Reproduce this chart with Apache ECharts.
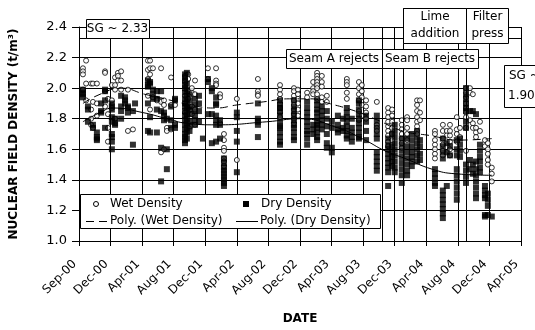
<!DOCTYPE html>
<html><head><meta charset="utf-8">
<script src="https://cdn.jsdelivr.net/npm/echarts@6/dist/echarts.min.js"></script>
<style>html,body{margin:0;padding:0;background:#fff}#c{width:535px;height:330px}</style>
</head><body><div id="c"></div>
<script>
// x = days since 1 Sep 2000 (Excel date axis, major unit 120 days)
const tickLabels = ['Sep-00','Dec-00','Apr-01','Aug-01','Dec-01','Apr-02','Aug-02','Dec-02','Apr-03','Aug-03','Dec-03','Apr-04','Aug-04','Dec-04','Apr-05'];
const xMin = 0, xMax = 1680, xStep = 120;
const yMin = 1.0, yMax = 2.4, yStep = 0.2;

// event markers (day) and SG lines
const seamBStart = 1151, limeStart = 1231, filterStart = 1471;
const sgHigh = 2.33, sgLow = 1.90;

const wetColumns = [
 [15,[2.13,2.11,2.09,1.99]],[27,[2.18,2.03,1.92]],[46,[2.03,1.86,1.80,1.76]],[53,[2.03,1.91,1.74]],
 [68,[2.03,1.90,1.82]],[99,[2.11,2.10,1.98,1.88]],[110,[1.93,1.83,1.74,1.65]],[125,[2.02,1.92,1.87]],
 [137,[2.07,2.02,1.99,1.80]],[148,[2.10,2.08,2.05]],[160,[2.11,2.05,1.99]],[186,[1.99,1.72]],[205,[1.73]],
 [262,[2.18,2.12,2.06,1.95]],[270,[2.18,2.13,2.09,1.86]],[281,[2.13,1.94]],[296,[1.93,1.92]],
 [312,[2.13,1.92,1.91,1.58]],[323,[1.92,1.89,1.60]],[334,[1.74,1.72]],[350,[2.07,1.89,1.73]],[365,[1.89,1.77]],
 [403,[2.08,2.05,2.04,1.95,1.90,1.84]],[415,[2.09,2.06,1.98,1.93,1.87]],[429,[2.00,1.97,1.88,1.83,1.76]],
 [441,[2.05,1.96,1.86,1.76]],[490,[2.13,2.06]],[521,[2.13,2.05,2.03,2.02]],[536,[1.96,1.94,1.77]],
 [551,[1.70,1.66,1.61,1.59,1.54,1.52,1.49]],[600,[1.93,1.53]],[680,[2.06,1.98,1.96,1.95]],
 [764,[2.02,1.99,1.96,1.93,1.90,1.87,1.84,1.81]],[817,[2.00,1.98,1.95,1.92,1.89,1.86,1.83,1.80,1.77]],
 [832,[1.99,1.96,1.93,1.90,1.86,1.82]],[867,[1.97,1.94]],[890,[2.04,2.00,1.98,1.96]],
 [905,[2.10,2.08,2.06,2.04,2.02,2.00,1.96,1.93]],[923,[2.08,2.04,2.01,1.94,1.91]],[942,[1.95,1.91]],
 [1018,[2.06,2.04,2.02,1.97,1.93]],[1064,[2.04,2.00,1.96,1.92,1.85,1.79]],[1075,[2.02,1.98,1.94,1.89,1.82]],
 [1091,[1.92,1.88,1.84,1.80]],[1132,[1.91,1.76,1.74,1.72]],[1175,[1.87,1.84,1.81,1.78,1.75,1.72,1.69,1.65,1.62]],
 [1190,[1.86,1.82,1.78,1.74,1.70,1.66]],[1227,[1.79,1.76,1.73,1.70,1.67,1.64,1.61]],[1247,[1.81,1.79,1.74,1.70,1.66]],
 [1285,[1.92,1.89,1.85,1.81,1.78,1.75,1.72,1.70]],[1296,[1.92,1.84,1.79]],[1353,[1.72,1.70,1.66,1.63,1.60,1.57,1.54]],
 [1383,[1.76,1.72,1.67,1.63,1.59,1.56]],[1398,[1.72,1.69]],[1410,[1.76,1.72,1.69,1.65,1.60,1.56]],
 [1436,[1.81,1.73,1.70,1.65]],[1448,[1.74,1.68]],[1471,[2.00,1.97,1.94,1.90,1.87,1.84,1.81,1.74,1.59]],
 [1486,[2.00,1.97,1.79]],[1497,[1.96,1.77,1.74]],[1509,[1.74,1.71,1.68]],[1524,[1.78,1.72]],
 [1543,[1.66,1.62]],[1554,[1.64,1.60,1.57,1.53,1.50]],[1569,[1.48,1.44,1.39]]
];
const dryColumns = [
 [15,[1.99,1.97,1.96,1.94]],[34,[1.88,1.86,1.78]],[53,[1.76,1.74]],[68,[1.71,1.68,1.67,1.66]],
 [84,[1.90,1.85,1.84]],[99,[1.99,1.98,1.92,1.74]],[125,[1.90,1.88,1.86,1.81,1.78,1.70,1.68,1.65,1.60]],
 [137,[1.80,1.77,1.76]],[160,[1.95,1.88,1.85,1.80]],[175,[1.94,1.92,1.90]],[186,[1.88,1.87,1.84]],
 [205,[1.85,1.63]],[213,[1.90]],[262,[2.05,2.02,2.01,1.90,1.72]],[270,[2.04,2.03,1.81,1.71]],
 [281,[1.99,1.96,1.93]],[296,[1.98,1.93,1.86,1.71]],[312,[1.98,1.85,1.61,1.39]],[323,[1.84,1.82,1.79]],
 [334,[1.80,1.60,1.47]],[350,[1.88,1.79,1.74]],[365,[1.93,1.92,1.76,1.74]],
 [403,[2.09,2.07,2.05,2.02,2.00,1.97,1.93,1.90,1.88,1.85,1.82,1.79,1.76,1.73,1.70,1.68,1.66,1.64]],
 [410,[2.10,2.03,1.99,1.95,1.91,1.87,1.83,1.80,1.77,1.74,1.71,1.67]],
 [420,[1.96,1.92,1.88,1.86,1.83,1.78,1.75,1.72]],[441,[1.93,1.89,1.85,1.82,1.79,1.76]],
 [456,[1.95,1.90,1.85,1.78]],[471,[1.67]],[490,[2.06,2.04,1.83]],[505,[2.00,1.98,1.83,1.64]],
 [521,[1.94,1.90,1.89,1.82,1.79,1.76,1.65]],[536,[1.79,1.76,1.67]],
 [551,[1.54,1.51,1.48,1.46,1.44,1.42,1.40,1.38,1.36]],[600,[1.84,1.81,1.72,1.65,1.45]],
 [680,[1.90,1.80,1.78,1.76,1.68]],[764,[1.92,1.89,1.87,1.85,1.82,1.78,1.75,1.74,1.71,1.68,1.65,1.63]],
 [817,[1.92,1.88,1.85,1.82,1.79,1.76,1.74,1.71,1.68,1.66]],[867,[1.91,1.87,1.84,1.81,1.78,1.75,1.72,1.70,1.67,1.63]],
 [890,[1.76,1.73,1.70]],[905,[1.92,1.89,1.86,1.84,1.81,1.78,1.76,1.74,1.71,1.68,1.66]],
 [923,[1.88,1.85,1.82,1.79,1.76,1.73]],[942,[1.85,1.80,1.75,1.70,1.64,1.61]],[961,[1.78,1.74,1.61,1.58]],
 [984,[1.82,1.76,1.73,1.71]],[1003,[1.80,1.74,1.72]],[1018,[1.87,1.84,1.81,1.78,1.75,1.72,1.69,1.67]],
 [1037,[1.80,1.74,1.71,1.68,1.65]],[1064,[1.92,1.90,1.86,1.83,1.80,1.77,1.74,1.71,1.68,1.67]],
 [1091,[1.82,1.78,1.72,1.66]],[1132,[1.82,1.78,1.74,1.70,1.67,1.58,1.55,1.52,1.49,1.46]],
 [1175,[1.67,1.63,1.60,1.57,1.54,1.51,1.48,1.45,1.36]],[1190,[1.70,1.62,1.58,1.55,1.52,1.49]],
 [1200,[1.76,1.72,1.68,1.64,1.60,1.56,1.52,1.48,1.45]],[1227,[1.67,1.63,1.59,1.55,1.51,1.47,1.43,1.38]],
 [1247,[1.67,1.62,1.58,1.54,1.50,1.46,1.43]],[1265,[1.70,1.66,1.62,1.58,1.55,1.52,1.49]],
 [1285,[1.72,1.68,1.64,1.60,1.56,1.52]],[1296,[1.66,1.62,1.57,1.53]],[1353,[1.47,1.44,1.41,1.38,1.36]],
 [1383,[1.67,1.62,1.58,1.54,1.33,1.30,1.27,1.24,1.21,1.18,1.15]],[1398,[1.64,1.58,1.36]],[1410,[1.62,1.56]],
 [1436,[1.66,1.60,1.56,1.47,1.43,1.39,1.35,1.31,1.27]],[1448,[1.67,1.63,1.59,1.55]],
 [1471,[2.00,1.96,1.93,1.90,1.87,1.85,1.78,1.74,1.50,1.46,1.42,1.38]],[1486,[1.85,1.53,1.47]],
 [1497,[1.85,1.50,1.44]],[1509,[1.83,1.52,1.47,1.43,1.39,1.35,1.31,1.28]],[1524,[1.63,1.59,1.55,1.52,1.48,1.45]],
 [1543,[1.36,1.33,1.30,1.28,1.17,1.16]],[1554,[1.31,1.27,1.23,1.17]],[1569,[1.16]]
];
// polynomial trendlines
const wetTrend = [[15,1.90],[80,1.96],[160,2.00],[250,1.96],[350,1.92],[450,1.88],[520,1.87],[600,1.89],[700,1.91],[800,1.93],[880,1.93],[950,1.90],[1050,1.85],[1136,1.79],[1230,1.72],[1334,1.69],[1440,1.66],[1569,1.67]];
const dryTrend = [[15,1.78],[80,1.84],[130,1.87],[243,1.84],[334,1.80],[410,1.77],[524,1.76],[714,1.78],[840,1.80],[984,1.74],[1087,1.66],[1163,1.59],[1239,1.54],[1342,1.47],[1429,1.44],[1569,1.43]];

const FONT = 'DejaVu Sans';
function flatten(cols){ const out=[]; cols.forEach(c=>c[1].forEach(v=>out.push([c[0],v]))); return out; }

const chart = echarts.init(document.getElementById('c'));
chart.setOption({
  animation:false,
  grid:{left:79,right:14,top:27,bottom:89,containLabel:false},
  xAxis:{type:'value',min:xMin,max:xMax,interval:xStep,
    name:'DATE',nameLocation:'middle',nameGap:72,
    nameTextStyle:{fontFamily:FONT,fontSize:12,fontWeight:'bold',color:'#000'},
    axisLine:{lineStyle:{color:'#000'}},
    axisTick:{inside:false,length:5,lineStyle:{color:'#000'}},
    axisLabel:{rotate:45,fontFamily:FONT,fontSize:12,color:'#000',margin:17,padding:[0,6,0,0],
      formatter:v=>tickLabels[Math.round(v/xStep)]},
    splitLine:{show:true,lineStyle:{color:'#000',width:1}}},
  yAxis:{type:'value',min:yMin,max:yMax,interval:yStep,
    name:'NUCLEAR FIELD DENSITY (t/m³)',nameLocation:'middle',nameGap:59,
    nameTextStyle:{fontFamily:FONT,fontSize:12,fontWeight:'bold',color:'#000'},
    axisLine:{show:true,lineStyle:{color:'#000'}},
    axisTick:{show:true,inside:false,length:7,lineStyle:{color:'#000'}},
    axisLabel:{fontFamily:FONT,fontSize:13,color:'#000',margin:12,formatter:v=>v.toFixed(1)},
    splitLine:{show:true,lineStyle:{color:'#000',width:1}}},
  series:[
    {name:'Wet Density',type:'scatter',data:flatten(wetColumns),symbol:'circle',symbolSize:5,
     itemStyle:{color:'#fff',borderColor:'#000',borderWidth:1}},
    {name:'Dry Density',type:'scatter',data:flatten(dryColumns),symbol:'rect',symbolSize:6,
     itemStyle:{color:'#000'}},
    {name:'Poly. (Wet Density)',type:'line',data:wetTrend,smooth:true,symbol:'none',
     lineStyle:{color:'#000',width:1,type:[8,5]}},
    {name:'Poly. (Dry Density)',type:'line',data:dryTrend,smooth:true,symbol:'none',
     lineStyle:{color:'#000',width:1}}
  ]
});

function P(d,v){ return chart.convertToPixel({gridIndex:0},[d,v]); }
const bottomY = P(0,yMin)[1], topY = P(0,yMax)[1];
const leftX = P(xMin,yMin)[0], rightX = P(xMax,yMin)[0];
const sgY = P(0,sgHigh)[1], sgLowY = P(0,sgLow)[1];
const xB = P(seamBStart,yMin)[0], xL = P(limeStart,yMin)[0], xF = P(filterStart,yMin)[0];
const LS = {stroke:'#000',lineWidth:1};
function box(x,y,w,h){ return {type:'rect',shape:{x:x+0.5,y:y+0.5,width:w,height:h},style:{fill:'#fff',stroke:'#000',lineWidth:1},z:10}; }
function txt(x,y,t,align){ return {type:'text',x:x,y:y,style:{text:t,fontFamily:FONT,fontSize:12,fill:'#000',align:align||'center',verticalAlign:'middle'},z:11}; }
function vline(x,y1,y2){ return {type:'line',shape:{x1:Math.round(x)+0.5,y1:y1,x2:Math.round(x)+0.5,y2:y2},style:LS,z:9}; }
const rB = Math.round(xB), rL = Math.round(xL), rF = Math.round(xF);
const g = [
  {type:'line',shape:{x1:leftX,y1:Math.round(sgY)+0.5,x2:rightX,y2:Math.round(sgY)+0.5},style:LS,z:9},
  vline(xB,topY,bottomY), vline(xL,8,bottomY), vline(xF,8,bottomY),
  box(86,Math.round(sgY)-19,63,19), txt(117.5,Math.round(sgY)-9,'SG ~ 2.33'),
  box(rB-96,49,96,19), txt(rB-48,58.5,'Seam A rejects'),
  box(rB,49,96,19), txt(rB+48,58.5,'Seam B rejects'),
  box(rL,8,rF-rL,35), txt((rL+rF)/2+0.5,17,'Lime'), txt((rL+rF)/2+0.5,34,'addition'),
  box(rF,8,42,35), txt(rF+21.5,17,'Filter'), txt(rF+21.5,34,'press'),
  box(504,Math.round(sgLowY)-38,40,42), txt(509,Math.round(sgLowY)-27,'SG ~','left'), txt(508,Math.round(sgLowY)-7,'1.90','left'),
  // legend
  box(80,194,300,34),
  {type:'circle',shape:{cx:96,cy:204,r:2.5},style:{fill:'#fff',stroke:'#000',lineWidth:1},z:11},
  txt(110,204,'Wet Density','left'),
  {type:'rect',shape:{x:243,y:201,width:6,height:6},style:{fill:'#000'},z:11},
  txt(261,204,'Dry Density','left'),
  {type:'line',shape:{x1:86,y1:221.5,x2:108,y2:221.5},style:{stroke:'#000',lineWidth:1,lineDash:[8,5]},z:11},
  txt(110,221,'Poly. (Wet Density)','left'),
  {type:'line',shape:{x1:236,y1:221.5,x2:258,y2:221.5},style:{stroke:'#000',lineWidth:1},z:11},
  txt(260,221,'Poly. (Dry Density)','left')
];
chart.setOption({graphic:g});
</script></body></html>
